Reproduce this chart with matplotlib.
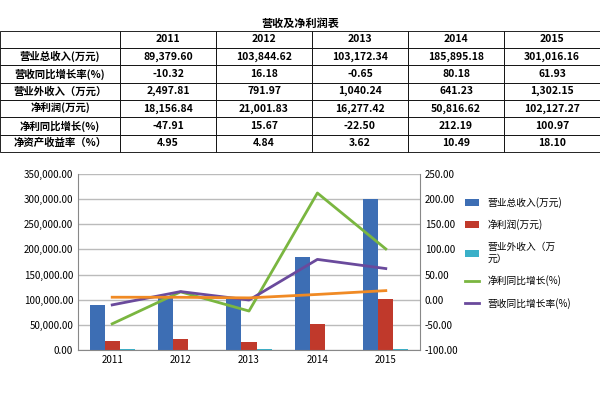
import matplotlib.pyplot as plt
import numpy as np

plt.rcParams["font.family"] = "Noto Sans CJK SC"

years = ["2011", "2012", "2013", "2014", "2015"]
revenue = [89379.60, 103844.62, 103172.34, 185895.18, 301016.16]
revenue_growth = [-10.32, 16.18, -0.65, 80.18, 61.93]
other_income = [2497.81, 791.97, 1040.24, 641.23, 1302.15]
net_profit = [18156.84, 21001.83, 16277.42, 50816.62, 102127.27]
profit_growth = [-47.91, 15.67, -22.50, 212.19, 100.97]
roe = [4.95, 4.84, 3.62, 10.49, 18.10]

row_labels = ["营业总收入(万元)", "营收同比增长率(%)", "营业外收入（万元）",
              "净利润(万元)", "净利同比增长(%)", "净资产收益率（%）"]
rows = [revenue, revenue_growth, other_income, net_profit, profit_growth, roe]

fig = plt.figure(figsize=(6, 4), dpi=100)

# table on top
tax = fig.add_axes([0, 0.62, 1, 0.33])
tax.axis("off")
cells = [[lab] + [f"{v:,.2f}" for v in r] for lab, r in zip(row_labels, rows)]
tbl = tax.table(cellText=cells, colLabels=[""] + years,
                colWidths=[0.2] + [0.16] * 5,
                cellLoc="center", bbox=[0.0, 0, 1.0, 0.92])
tbl.auto_set_font_size(False)
tbl.set_fontsize(7.5)
for (r, c), cell in tbl.get_celld().items():
    cell.set_linewidth(0.6)
    cell.get_text().set_fontweight("bold")
tax.set_title("营收及净利润表", fontsize=8, fontweight="bold", pad=0, y=0.95)

# chart
ax = fig.add_axes([0.13, 0.125, 0.57, 0.44])
x = np.arange(len(years))
w = 0.22
ax.bar(x - w, revenue, w, color="#3d6eb4", label="营业总收入(万元)")
ax.bar(x, net_profit, w, color="#c0392b", label="净利润(万元)")
ax.bar(x + w, other_income, w, color="#3ab0c8", label="营业外收入（万\n元）")
ax.set_ylim(0, 350000)
ax.set_yticks(np.arange(0, 350001, 50000))
ax.yaxis.set_major_formatter(lambda v, p: f"{v:,.2f}")
ax.set_xticks(x)
ax.set_xticklabels(years)
ax.grid(axis="y", color="#bbbbbb", linewidth=1)
ax.set_axisbelow(True)
ax.tick_params(labelsize=7, length=0)
for s in ["top", "right"]:
    ax.spines[s].set_visible(False)
ax.spines["left"].set_color("#888888")
ax.spines["bottom"].set_color("#888888")

ax2 = ax.twinx()
ax2.plot(x, profit_growth, color="#7ab640", lw=2, label="净利同比增长(%)")
ax2.plot(x, revenue_growth, color="#6a4a9c", lw=2, label="营收同比增长率(%)")
ax2.plot(x, roe, color="#f08a24", lw=2, label="_roe")
ax2.set_ylim(-100, 250)
ax2.set_yticks(np.arange(-100, 251, 50))
ax2.yaxis.set_major_formatter(lambda v, p: f"{v:.2f}")
ax2.tick_params(labelsize=7, length=0)
for s in ["top", "left", "bottom"]:
    ax2.spines[s].set_visible(False)
ax2.spines["right"].set_color("#888888")
ax.set_xlim(-0.5, 4.5)

h1, l1 = ax.get_legend_handles_labels()
h2, l2 = ax2.get_legend_handles_labels()
fig.legend(h1 + h2, l1 + l2, loc="upper left", bbox_to_anchor=(0.76, 0.53),
           frameon=False, fontsize=7, labelspacing=1.2, handlelength=1.5)

fig.savefig("out.png")
